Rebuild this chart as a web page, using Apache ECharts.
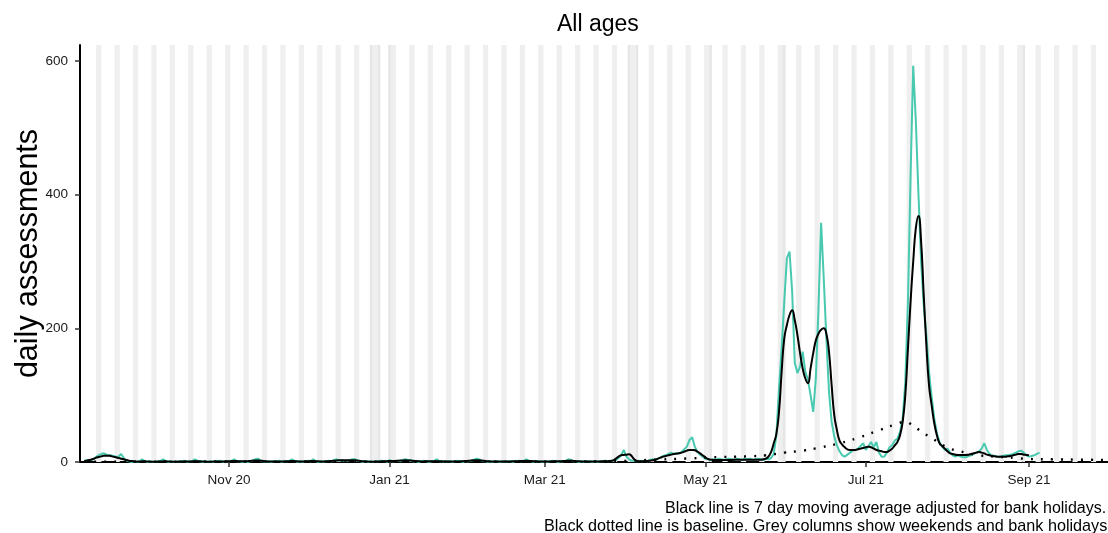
<!DOCTYPE html>
<html>
<head>
<meta charset="utf-8">
<script src="https://cdn.jsdelivr.net/npm/echarts@6/dist/echarts.min.js"></script>
<style>
html,body{margin:0;padding:0;background:#fff;}
#chart{width:1108px;height:533px;}
</style>
</head>
<body>
<div id="chart"></div>
<script>
// ---------------- data ----------------
const startDate = '2020-09-07'; // first day of daily series (Monday)

// daily assessments (teal), one row per week Mon..Sun
const dailyAssessments = [
  2, 3, 3, 3, 6, 9, 11,
  13, 12, 10, 10, 9, 8, 8,
  12, 6, 2, 1, 0, 1, 0,
  1, 4, 1, 0, 1, 0, 0,
  1, 2, 4, 1, 0, 1, 0,
  0, 1, 1, 2, 0, 1, 1,
  4, 2, 1, 0, 1, 0, 1,
  0, 1, 2, 1, 0, 1, 1,
  2, 4, 1, 1, 0, 1, 0,
  1, 2, 4, 5, 2, 1, 0,
  1, 0, 1, 1, 2, 0, 1,
  1, 2, 4, 1, 0, 1, 0,
  1, 2, 1, 4, 1, 0, 1,
  0, 1, 2, 1, 3, 4, 2,
  3, 1, 2, 3, 4, 4, 2,
  1, 0, 1, 0, 1, 0, 1,
  1, 2, 1, 0, 3, 1, 1,
  2, 1, 3, 4, 3, 3, 1,
  1, 0, 1, 2, 1, 0, 1,
  2, 4, 1, 1, 0, 1, 1,
  0, 1, 2, 1, 0, 1, 1,
  2, 3, 5, 4, 2, 1, 0,
  1, 0, 1, 1, 0, 1, 0,
  1, 1, 0, 1, 2, 1, 2,
  4, 2, 1, 0, 1, 1, 0,
  1, 0, 1, 2, 1, 0, 1,
  1, 2, 4, 3, 1, 1, 0,
  1, 0, 1, 1, 0, 1, 0,
  1, 1, 2, 1, 2, 2, 3,
  6, 10, 18, 8, 4, 2, 2,
  1, 2, 1, 2, 1, 3, 4,
  3, 5, 7, 9, 10, 12, 14,
  12, 13, 13, 15, 19, 23, 33,
  37, 23, 15, 11, 8, 5, 4,
  3, 4, 3, 5, 4, 3, 4,
  5, 4, 3, 5, 4, 3, 5,
  4, 5, 3, 4, 5, 4, 3,
  5, 4, 6, 12, 40, 110, 170,
  240, 305, 315, 255, 148, 133, 143,
  165, 135, 123, 100, 75, 125, 230,
  358, 275, 185, 105, 60, 38, 25,
  16, 10, 8, 11, 14, 17, 18,
  20, 24, 28, 18, 24, 30, 22,
  30, 14, 8, 8, 14, 22, 25,
  32, 35, 45, 65, 120, 240, 430,
  593, 510, 400, 300, 235, 190, 135,
  98, 65, 43, 30, 23, 18, 20,
  14, 10, 8, 10, 8, 7, 7,
  9, 10, 12, 14, 16, 20, 28,
  18, 12, 10, 9, 8, 8, 9,
  10, 10, 11, 12, 14, 16, 17,
  14, 10, 8, 9, 10, 12, 14
];

// 7 day moving average (black), same start date
const movingAverage = [
  1, 2, 3, 4, 5.5, 7, 8,
  9, 9.5, 9.5, 9, 8, 7, 6,
  5, 4, 3, 2, 1.5, 1, 0.5,
  0.8, 1, 1, 0.8, 0.6, 0.5, 0.5,
  0.6, 0.8, 1, 1, 0.8, 0.6, 0.5,
  0.5, 0.6, 0.8, 0.8, 0.8, 0.8, 1,
  1.2, 1.2, 1, 0.8, 0.6, 0.5, 0.5,
  0.6, 0.7, 0.8, 0.8, 0.8, 1, 1.2,
  1.4, 1.5, 1.4, 1.2, 1, 1, 1.2,
  1.6, 2, 2.4, 2.4, 2, 1.5, 1,
  0.8, 0.7, 0.8, 0.9, 0.9, 0.8, 0.8,
  1, 1.3, 1.5, 1.3, 1, 0.8, 0.8,
  1, 1.2, 1.4, 1.4, 1.2, 1, 0.8,
  0.8, 1, 1.3, 1.6, 2, 2.3, 2.5,
  2.6, 2.6, 2.7, 2.8, 2.8, 2.5, 2,
  1.5, 1, 0.7, 0.6, 0.5, 0.5, 0.6,
  0.8, 1, 1.2, 1.3, 1.4, 1.5, 1.6,
  1.8, 2.1, 2.3, 2.5, 2.4, 2.1, 1.8,
  1.4, 1.1, 0.9, 0.9, 1, 1, 1,
  1.1, 1.2, 1.2, 1, 0.8, 0.7, 0.7,
  0.7, 0.8, 0.9, 1, 1.2, 1.5, 1.8,
  2.2, 2.5, 2.7, 2.6, 2.3, 1.8, 1.3,
  1, 0.8, 0.6, 0.6, 0.6, 0.6, 0.7,
  0.8, 0.9, 1, 1.1, 1.3, 1.5, 1.6,
  1.7, 1.6, 1.4, 1.2, 1, 0.8, 0.7,
  0.7, 0.8, 0.9, 1, 1, 1.1, 1.2,
  1.4, 1.6, 1.8, 1.8, 1.6, 1.3, 1,
  0.8, 0.7, 0.6, 0.6, 0.7, 0.8, 0.8,
  0.9, 1, 1.1, 1.3, 1.5, 2.5, 5,
  8, 10, 10.5, 11, 11.5, 9, 4,
  1.5, 1, 1, 1, 1.5, 2, 2.5,
  3.5, 5, 6.5, 8, 9, 10, 11,
  12, 12.5, 13, 14, 15.5, 17, 18,
  18, 17.5, 15.5, 13, 10, 7, 4.5,
  3.5, 3, 3, 3, 3, 3, 3,
  3, 3, 3.5, 3.5, 3.5, 3.5, 3.5,
  3.5, 3.5, 3.5, 3.5, 3.5, 3.5, 4,
  5, 8, 15, 28, 42, 75, 135,
  185, 205, 220, 227, 212, 190, 163,
  140, 125, 118, 140, 163, 182, 192,
  198, 200, 192, 165, 115, 70, 48,
  32, 26, 22, 19, 18, 18, 18,
  19, 20, 21, 22, 23, 22, 20,
  18, 17, 16, 15, 15, 17, 20,
  25, 30, 40, 60, 100, 170, 240,
  300, 350, 368, 330, 250, 175, 115,
  85, 58, 40, 28, 24, 20, 16,
  13, 12, 11, 10.5, 10.5, 10.5, 10.5,
  11, 12, 13, 14, 15, 14, 13,
  11, 10, 9, 8.5, 8, 8, 8,
  8, 8.5, 9, 10, 11, 12, 12,
  11, 10.5, 10
];

// baseline (black dotted)
const baselineDates = [
  '2020-09-07','2020-10-05','2020-11-02','2020-12-07','2021-01-04','2021-02-01',
  '2021-03-01','2021-03-29','2021-04-12','2021-04-26','2021-05-03','2021-05-17',
  '2021-05-24','2021-05-31','2021-06-07','2021-06-14','2021-06-21','2021-06-28',
  '2021-07-05','2021-07-12','2021-07-16','2021-07-19','2021-07-23','2021-07-26',
  '2021-07-30','2021-08-02','2021-08-06','2021-08-09','2021-08-13','2021-08-20',
  '2021-08-27','2021-09-01','2021-09-10','2021-09-20','2021-10-01'
];
const baselineValues = [
  0.5, 0.5, 0.5, 0.5, 0.5, 0.5,
  0.5, 1.5, 3.5, 5.5, 7, 8.5,
  10, 14, 17, 22, 28, 36,
  46, 56, 60, 54, 43, 36,
  26, 20, 16, 13, 10, 8,
  6, 4.5, 4, 3.5, 3
];

// English bank holidays in range
const bankHolidays = ['2020-12-25','2020-12-28','2021-01-01','2021-04-02','2021-04-05','2021-05-03','2021-05-31','2021-08-30'];

// x axis ticks
const tickDates = ['2020-11-01','2021-01-01','2021-03-01','2021-05-01','2021-07-01','2021-09-01'];
const tickLabels = ['Nov 20','Jan 21','Mar 21','May 21','Jul 21','Sep 21'];

const yTicks = [0, 200, 400, 600];

// ---------------- build ----------------
function parseDate(s){ const p = s.split('-').map(Number); return new Date(p[0], p[1]-1, p[2]).getTime(); }
const DAY = 86400000;
const start = parseDate(startDate);
function dayTs(i){ const d = new Date(start); d.setDate(d.getDate() + i); return d.getTime(); }

const tealData = dailyAssessments.map((v,i)=>[dayTs(i), v]);
const blackData = movingAverage.map((v,i)=>[dayTs(i), v]);
const baseData = baselineDates.map((d,i)=>[parseDate(d), baselineValues[i]]);

const xMin = new Date(2020, 8, 5, 9).getTime();
const xMax = new Date(2021, 9, 1, 0, 30).getTime();

// grey columns: weekends + bank holidays
const bhSet = new Set(bankHolidays.map(parseDate));
const weekendAreas = [], holidayAreas = [];
{
  let cur = null;
  for (let t = start; t <= parseDate('2021-10-01'); ) {
    const d = new Date(t);
    const isBH = bhSet.has(t);
    const isWE = d.getDay() === 0 || d.getDay() === 6;
    if (isBH) holidayAreas.push([{xAxis: t - DAY/2}, {xAxis: t + DAY/2}]);
    if (isWE) {
      if (cur && cur.end === t - DAY/2) cur.end = t + DAY/2;
      else { cur = {start: t - DAY/2, end: t + DAY/2}; weekendAreas.push(cur); }
    }
    d.setDate(d.getDate() + 1);
    t = d.getTime();
  }
}

const tickTs = tickDates.map(parseDate);
const FONT = 'Liberation Sans, Arial, sans-serif';

const chart = echarts.init(document.getElementById('chart'), null, {renderer: 'canvas'});
chart.setOption({
  animation: false,
  backgroundColor: '#ffffff',
  title: {
    text: 'All ages',
    left: 552, top: 8,
    textStyle: {fontFamily: FONT, fontSize: 23, fontWeight: 'normal', color: '#000'}
  },
  grid: {left: 80, right: 0, top: 45, bottom: 71, containLabel: false, outerBoundsMode: 'none'},
  xAxis: {
    type: 'value', min: xMin, max: xMax,
    axisLine: {show: true, onZero: false, lineStyle: {color: '#000', width: 2}},
    axisTick: {show: true, length: 5, customValues: tickTs, lineStyle: {color: '#333', width: 1.5}},
    axisLabel: {
      customValues: tickTs, margin: 11, fontFamily: FONT, fontSize: 13.5, color: '#1a1a1a',
      formatter: function(v){ const i = tickTs.indexOf(v); return i >= 0 ? tickLabels[i] : ''; }
    },
    splitLine: {show: false}
  },
  yAxis: {
    type: 'value', min: 0, max: 624, interval: 200,
    name: 'daily assessments', nameLocation: 'middle', nameGap: 36, nameMoveOverlap: false,
    nameTextStyle: {fontFamily: FONT, fontSize: 30.5, color: '#000'},
    axisLine: {show: true, lineStyle: {color: '#000', width: 2}},
    axisTick: {show: true, length: 5, customValues: yTicks, lineStyle: {color: '#333', width: 1.5}},
    axisLabel: {customValues: yTicks, margin: 12, fontFamily: FONT, fontSize: 13.5, color: '#1a1a1a'},
    splitLine: {show: false}
  },
  series: [
    {
      name: 'columns', type: 'line', data: [], silent: true,
      markArea: {
        silent: true,
        itemStyle: {color: '#efefef'},
        data: weekendAreas.map(a => [{xAxis: a.start}, {xAxis: a.end}])
          .concat(holidayAreas.map(a => [Object.assign({itemStyle: {color: '#e6e6e6'}}, a[0]), a[1]]))
      }
    },
    {
      name: 'daily', type: 'line', data: tealData, showSymbol: false, smooth: false,
      lineStyle: {color: '#48c9b0', width: 2}, z: 3
    },
    {
      name: 'baseline', type: 'line', data: baseData, showSymbol: false, smooth: true,
      lineStyle: {color: '#000', width: 2.4, type: [2, 8]}, z: 5
    },
    {
      name: 'average', type: 'line', data: blackData, showSymbol: false, smooth: true,
      lineStyle: {color: '#000', width: 2}, z: 4
    }
  ],
  graphic: [
    {type: 'text', left: 665, top: 501, style: {text: 'Black line is 7 day moving average adjusted for bank holidays.', font: '16px ' + FONT, fill: '#000'}},
    {type: 'text', left: 544, top: 519, style: {text: 'Black dotted line is baseline. Grey columns show weekends and bank holidays.', font: '16.2px ' + FONT, fill: '#000'}}
  ]
});
</script>
</body>
</html>
